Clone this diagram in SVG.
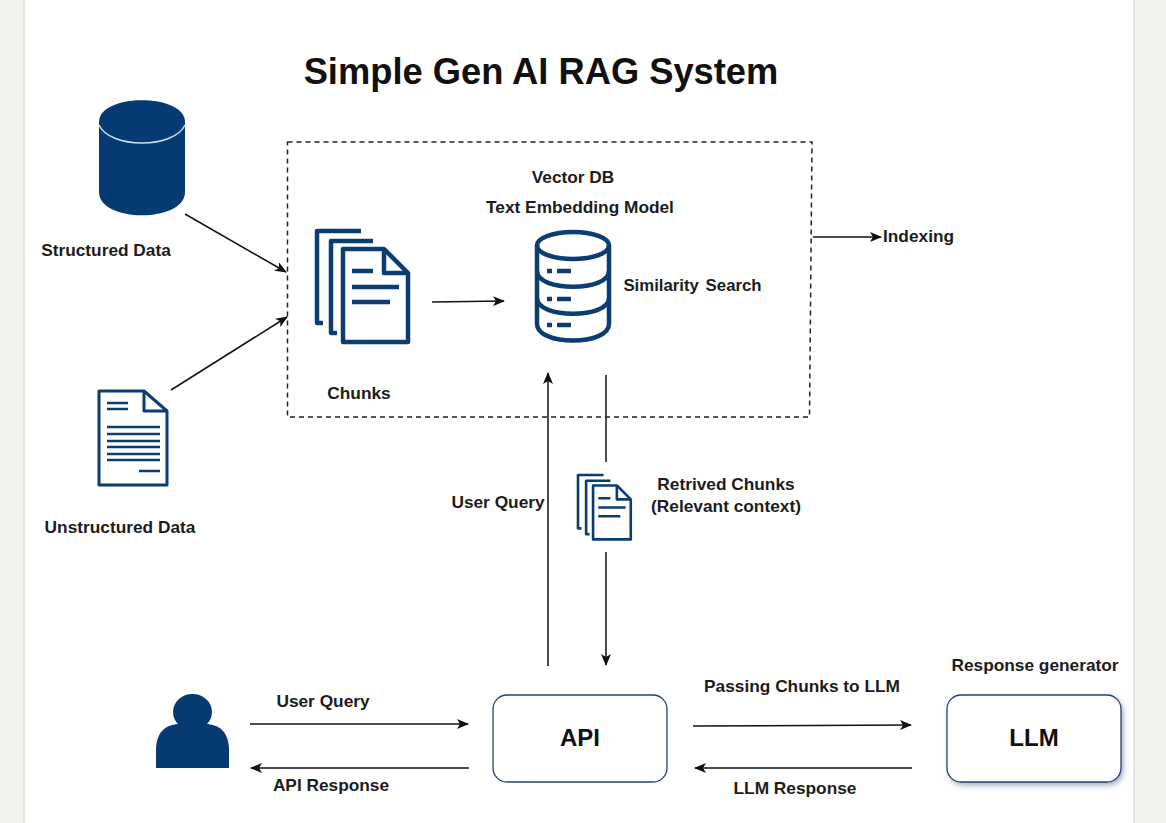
<svg xmlns="http://www.w3.org/2000/svg" xmlns:xlink="http://www.w3.org/1999/xlink" width="1166" height="823" viewBox="0 0 1166 823">
<style>
text{font-family:"Liberation Sans",Arial,sans-serif;font-weight:700;fill:#1c1c1c;font-size:17.300px}
.i{fill:none;stroke:#0b3d71;stroke-width:4.500;stroke-linejoin:round}
.c{stroke:#111;stroke-width:1.500;fill:none}
.box{fill:#fff;stroke:#24446b;stroke-width:1.300}
.blue{fill:#063a73}
</style>
<defs>
<marker id="a" viewBox="0 0 12 10" refX="11" refY="5" markerWidth="12" markerHeight="10" markerUnits="userSpaceOnUse" orient="auto"><path d="M0 0L12 5L0 10L3 5Z" fill="#111"/></marker>
<filter id="s" x="-10%" y="-10%" width="125%" height="130%"><feDropShadow dx="2" dy="3" stdDeviation="2.500" flood-color="#24446b" flood-opacity=".4"/></filter>
<g id="docs">
<path d="M44 0H0V92H6M56 10H14V102H20"/>
<path d="M26 18H67L91 42V111H26Z"/><path d="M67 18V42H91"/>
<path d="M35 40H56M35 56H82M35 71H73"/>
</g>
</defs>
<rect width="1166" height="823" fill="#f2f1ed"/>
<rect x="24" y="-2" width="1110" height="827" fill="#fff" stroke="#dfdfdd" stroke-width="1.500"/>
<text id="title" x="541" y="84" text-anchor="middle" style="font-size:36.300px;fill:#111">Simple Gen AI RAG System</text>
<g id="connectors">
<path class="c" d="M185 214L286 272" marker-end="url(#a)"/>
<path class="c" d="M171 390L287 317" marker-end="url(#a)"/>
<path class="c" d="M432 302L504 301" marker-end="url(#a)"/>
<path class="c" d="M813 237H881" marker-end="url(#a)"/>
<path class="c" d="M548 666V373" marker-end="url(#a)"/>
<path class="c" d="M606 375V462"/>
<path class="c" d="M606 552V665" marker-end="url(#a)"/>
<path class="c" d="M250 724H468" marker-end="url(#a)"/>
<path class="c" d="M469 768H251" marker-end="url(#a)"/>
<path class="c" d="M693 726L911 725" marker-end="url(#a)"/>
<path class="c" d="M912 768H695" marker-end="url(#a)"/>
</g>
<g id="vector-db-boundary"><path d="M287.500 142H812L809.500 417H287.500Z" fill="none" stroke="#222" stroke-width="1.500" stroke-dasharray="5 4"/></g>
<g id="structured-data">
<path class="blue" d="M99 122C99 93 185 93 185 122V192C185 223 99 223 99 192Z"/>
<path d="M99 125C110 149 174 149 185 125" fill="none" stroke="#cfe0ee" stroke-width="1.500"/>
<text x="106" y="256" text-anchor="middle">Structured Data</text>
</g>
<g id="unstructured-data">
<path class="i" style="stroke-width:3" d="M99 391H144L167 411V485H99Z"/>
<path class="i" style="stroke-width:3" d="M144 391V411H167"/>
<path class="i" style="stroke-width:2.500" d="M107 403H128M107 409H128M107 427H160M107 434H160M107 441H160M107 447H160M107 454H160M107 460H160M139 471H160"/>
<text x="120" y="533" text-anchor="middle">Unstructured Data</text>
</g>
<g id="chunks">
<use xlink:href="#docs" href="#docs" x="317" y="231" class="i"/>
<text x="359" y="399" text-anchor="middle">Chunks</text>
</g>
<g id="vector-db">
<text x="573" y="183" text-anchor="middle">Vector DB</text>
<text x="580" y="213" text-anchor="middle">Text Embedding Model</text>
<g class="i">
<ellipse cx="573" cy="245.500" rx="36" ry="13.500"/>
<path d="M537 245V324C537 346 609 346 609 324V245"/>
<path d="M537 271C537 292 609 292 609 271M537 298C537 319 609 319 609 298"/>
</g>
<path class="i" d="M547 271H552M557 271H571M547 299H552M557 299H571M547 325H552M557 325H571"/>
<text x="692.500" y="291" text-anchor="middle" style="font-size:16.800px;word-spacing:2px">Similarity Search</text>
</g>
<g id="indexing"><text x="883" y="242">Indexing</text></g>
<g id="user-query-label"><text x="498" y="508" text-anchor="middle">User Query</text></g>
<g id="retrieved-chunks">
<g transform="translate(578 475) scale(.58)"><use xlink:href="#docs" href="#docs" class="i"/></g>
<text x="726" y="490" text-anchor="middle">Retrived Chunks</text>
<text x="726" y="512" text-anchor="middle">(Relevant context)</text>
</g>
<g id="user">
<ellipse cx="192.500" cy="712" rx="19.500" ry="18" class="blue"/>
<path class="blue" d="M156 768V750C156 733 165 724 180 724H205C220 724 229 733 229 750V768Z"/>
</g>
<g id="api">
<rect class="box" x="493" y="695" width="174" height="87" rx="14"/>
<text x="580" y="746" text-anchor="middle" style="font-size:24px;fill:#111">API</text>
</g>
<g id="llm">
<rect class="box" x="947" y="695" width="174" height="87" rx="14" filter="url(#s)"/>
<text x="1034" y="746" text-anchor="middle" style="font-size:24px;fill:#111">LLM</text>
<text x="1035" y="671" text-anchor="middle">Response generator</text>
</g>
<g id="labels">
<text x="323" y="707" text-anchor="middle">User Query</text>
<text x="331" y="791" text-anchor="middle">API Response</text>
<text x="802" y="692" text-anchor="middle">Passing Chunks to LLM</text>
<text x="795" y="794" text-anchor="middle">LLM Response</text>
</g>
</svg>
